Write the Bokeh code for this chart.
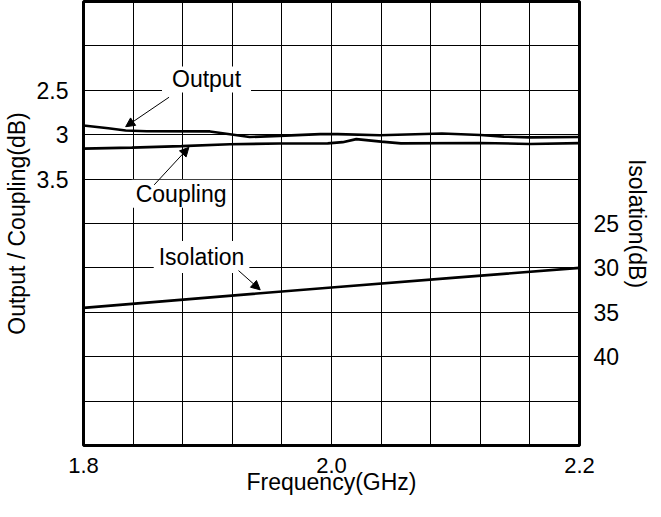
from bokeh.plotting import figure
from bokeh.models import Range1d, LinearAxis, FixedTicker, Label, Arrow, NormalHead
from bokeh.embed import file_html
from bokeh.resources import INLINE

# ---- data ----
freq_output = [1.800, 1.820, 1.834, 1.851, 1.902, 1.918, 1.934, 1.958, 1.991, 2.005,
               2.039, 2.089, 2.120, 2.139, 2.160, 2.200]
output_db = [2.896, 2.927, 2.952, 2.961, 2.963, 2.994, 3.026, 3.013, 2.994, 2.994,
             3.006, 2.987, 3.003, 3.022, 3.030, 3.026]

freq_coupling = [1.800, 1.839, 1.879, 1.918, 1.958, 1.997, 2.009, 2.020, 2.040, 2.056,
                 2.120, 2.160, 2.200]
coupling_db = [3.157, 3.146, 3.129, 3.107, 3.099, 3.098, 3.084, 3.050, 3.078, 3.098,
               3.093, 3.104, 3.095]

freq_isolation = [1.80, 1.90, 2.00, 2.10, 2.20]
isolation_db = [34.5, 33.35, 32.2, 31.1, 30.0]

x_ticks = [1.8, 2.0, 2.2]
x_tick_labels = ["1.8", "2.0", "2.2"]
x_grid = [1.84, 1.88, 1.92, 1.96, 2.00, 2.04, 2.08, 2.12, 2.16]

left_ticks = [2.5, 3.0, 3.5]
left_tick_labels = ["2.5", "3", "3.5"]
left_grid = [2.0, 2.5, 3.0, 3.5, 4.0, 4.5, 5.0, 5.5, 6.0]

right_ticks = [25, 30, 35, 40]
right_tick_labels = ["25", "30", "35", "40"]

# annotation texts and their anchor points (data units)
ann_text = ["Output", "Coupling", "Isolation"]
ann_x = [1.8992, 1.8787, 1.8952]
ann_y = [2.377, 3.666, 28.77]
ann_range = ["default", "default", "iso"]
ann_pad = [dict(left=10, right=10, top=0, bottom=0),
           dict(left=4, right=4, top=1, bottom=1),
           dict(left=5, right=5, top=3, bottom=3)]
arrow_x0 = [1.869, 1.857, 1.925]
arrow_y0 = [2.578, 3.565, 30.3]
arrow_x1 = [1.834, 1.885, 1.9425]
arrow_y1 = [2.91, 3.142, 32.47]

FONT = "Liberation Sans"
FS = "23px"
FS_TICK = "22px"

p = figure(width=653, height=501, output_backend="svg", toolbar_location=None,
           x_range=Range1d(1.8, 2.2), y_range=Range1d(6.5, 1.5),
           min_border_left=77, min_border_right=68, min_border_top=1, min_border_bottom=56)
p.extra_y_ranges = {"iso": Range1d(50, 0)}

p.background_fill_color = "white"
p.border_fill_color = "white"
p.outline_line_color = "black"
p.outline_line_width = 3

# grid
p.xgrid.ticker = FixedTicker(ticks=x_grid)
p.ygrid.ticker = FixedTicker(ticks=left_grid)
for g in (p.xgrid[0], p.ygrid[0]):
    g.grid_line_color = "black"
    g.grid_line_width = 1
    g.grid_line_alpha = 1.0

def style_axis(ax, standoff, tick_fs):
    ax.axis_line_color = None
    ax.major_tick_line_color = None
    ax.minor_tick_line_color = None
    ax.major_tick_out = 0
    ax.major_tick_in = 0
    ax.minor_tick_out = 0
    ax.minor_tick_in = 0
    ax.major_label_standoff = standoff
    ax.major_label_text_font = FONT
    ax.major_label_text_font_size = tick_fs
    ax.major_label_text_color = "black"
    ax.axis_label_text_font = FONT
    ax.axis_label_text_font_size = FS
    ax.axis_label_text_font_style = "normal"
    ax.axis_label_text_color = "black"

# bottom axis
xa = p.xaxis[0]
xa.ticker = FixedTicker(ticks=x_ticks)
xa.major_label_overrides = {t: s for t, s in zip(x_ticks, x_tick_labels)}
xa.axis_label = "Frequency(GHz)"
style_axis(xa, 12, FS_TICK)
xa.axis_label_standoff = -7

# left axis
ya = p.yaxis[0]
ya.ticker = FixedTicker(ticks=left_ticks)
ya.major_label_overrides = {t: s for t, s in zip(left_ticks, left_tick_labels)}
ya.axis_label = "Output / Coupling(dB)"
style_axis(ya, 15, FS)
ya.axis_label_standoff = 4

# right axis
ra = LinearAxis(y_range_name="iso", ticker=FixedTicker(ticks=right_ticks),
                axis_label="Isolation(dB)")
ra.major_label_overrides = {t: s for t, s in zip(right_ticks, right_tick_labels)}
style_axis(ra, 14, FS)
ra.axis_label_standoff = 2
p.add_layout(ra, "right")

# curves
p.line(freq_output, output_db, line_color="black", line_width=2.6)
p.line(freq_coupling, coupling_db, line_color="black", line_width=2.6)
p.line(freq_isolation, isolation_db, line_color="black", line_width=2.6, y_range_name="iso")

# annotations
for t, x, y, rn, pad in zip(ann_text, ann_x, ann_y, ann_range, ann_pad):
    p.add_layout(Label(x=x, y=y, text=t, y_range_name=rn,
                       text_align="center", text_baseline="middle",
                       text_font=FONT, text_font_size=FS, text_color="black",
                       background_fill_color="white", padding=pad))
for x0, y0, x1, y1, rn in zip(arrow_x0, arrow_y0, arrow_x1, arrow_y1, ann_range):
    p.add_layout(Arrow(end=NormalHead(size=9, fill_color="black", line_color="black", line_width=1),
                       x_start=x0, y_start=y0, x_end=x1, y_end=y1,
                       line_color="black", line_width=1, y_range_name=rn))

open("out.html", "w").write(file_html(p, INLINE))
